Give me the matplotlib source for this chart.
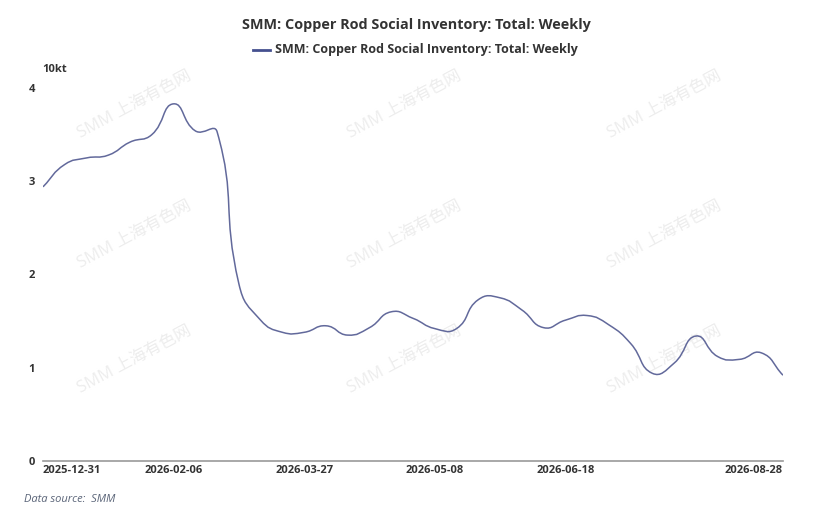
import numpy as np
import matplotlib
matplotlib.use("Agg")
import matplotlib.pyplot as plt
from matplotlib.path import Path
from matplotlib.patches import PathPatch
from matplotlib.lines import Line2D

plt.rcParams['font.family'] = ['Open Sans', 'Noto Sans CJK SC', 'DejaVu Sans']

title = "SMM: Copper Rod Social Inventory: Total: Weekly"
dates = ["2025-12-31", "2026-01-05", "2026-01-09", "2026-01-16", "2026-01-23",
         "2026-01-30", "2026-02-06", "2026-02-13", "2026-02-27", "2026-03-06",
         "2026-03-13", "2026-03-20", "2026-03-27", "2026-04-03", "2026-04-10",
         "2026-04-17", "2026-04-24", "2026-04-30", "2026-05-08", "2026-05-15",
         "2026-05-22", "2026-05-29", "2026-06-05", "2026-06-12", "2026-06-18",
         "2026-06-26", "2026-07-03", "2026-07-10", "2026-07-17", "2026-07-24",
         "2026-07-31", "2026-08-07", "2026-08-14", "2026-08-21", "2026-08-28"]
inventory = [2.94, 3.18, 3.25, 3.28, 3.42, 3.50, 3.83, 3.54, 3.53, 1.90,
             1.51, 1.38, 1.38, 1.45, 1.35, 1.43, 1.60, 1.53, 1.42, 1.42,
             1.73, 1.75, 1.62, 1.43, 1.51, 1.56, 1.46, 1.26, 0.94, 1.05,
             1.34, 1.12, 1.09, 1.16, 0.92]
shown_ticks = [0, 6, 12, 18, 24, 34]

W, H = 831, 522
fig = plt.figure(figsize=(W / 100, H / 100), dpi=100)
ax = fig.add_axes([43 / W, (H - 461) / H, (783 - 43) / W, (461 - 88) / H])

x = np.arange(len(inventory), dtype=float)
y = np.array(inventory)

# echarts-like smooth curve: bezier control points from neighbours
sx, sy = 21.76, 93.25   # px per unit, to weigh distances like on screen
smooth = 0.5
n = len(x)
cps = []
for i in range(n):
    prev_i = max(i - 1, 0)
    next_i = min(i + 1, n - 1)
    vx = x[next_i] - x[prev_i]
    vy = y[next_i] - y[prev_i]
    d0 = np.hypot((x[i] - x[prev_i]) * sx, (y[i] - y[prev_i]) * sy)
    d1 = np.hypot((x[next_i] - x[i]) * sx, (y[next_i] - y[i]) * sy)
    tot = d0 + d1 if d0 + d1 > 0 else 1
    d0, d1 = d0 / tot, d1 / tot
    cp0 = (x[i] - vx * smooth * d0, y[i] - vy * smooth * d0)
    cp1 = (x[i] + vx * smooth * d1, y[i] + vy * smooth * d1)
    cps.append((cp0, cp1))
verts = [(x[0], y[0])]
codes = [Path.MOVETO]
for i in range(1, n):
    verts += [cps[i - 1][1], cps[i][0], (x[i], y[i])]
    codes += [Path.CURVE4] * 3
ax.add_patch(PathPatch(Path(verts, codes), fill=False, edgecolor='#62699b',
                       lw=1.1, zorder=3))

ax.set_xlim(0, n - 1)
ax.set_ylim(0, 4)
for s in ['top', 'right', 'left']:
    ax.spines[s].set_visible(False)
ax.spines['bottom'].set_color('#9a9a9a')
ax.spines['bottom'].set_linewidth(1.2)
ax.set_yticks([0, 1, 2, 3, 4])
ax.set_yticklabels(['0', '1', '2', '3', '4'], fontsize=8, fontweight='bold',
                   color='#333333')
ax.tick_params(axis='y', length=0, pad=6)
ax.set_xticks(shown_ticks)
labels = ax.set_xticklabels([dates[i] for i in shown_ticks], fontsize=8,
                            fontweight='bold', color='#333333')
labels[0].set_ha('left')
labels[-1].set_ha('right')
ax.tick_params(axis='x', length=0, pad=3)

# watermark, behind the line
for wx in [135, 405, 665]:
    for wy in [105, 235, 360]:
        ax.text(wx / W, 1 - wy / H, "SMM 上海有色网", fontsize=12,
                color='#ededed', rotation=28, ha='center', va='center',
                family=['Open Sans', 'Noto Sans CJK SC'], zorder=1,
                transform=fig.transFigure, clip_on=False)

fig.text(416 / W, 1 - 25 / H, title, ha='center', va='center', fontsize=10.4,
         fontweight='bold', color='#333333')
fig.add_artist(Line2D([253 / W, 270 / W], [1 - 50 / H, 1 - 50 / H],
                      color='#45508f', lw=2))
fig.text(275 / W, 1 - 50 / H, title, ha='left', va='center', fontsize=9,
         fontweight='bold', color='#333333')
fig.text(42 / W, 1 - 70 / H, "10kt", ha='left', va='center', fontsize=8,
         fontweight='bold', color='#333333')
fig.text(24 / W, 1 - 499 / H, "Data source:  SMM", ha='left', va='center',
         fontsize=8, style='italic', color='#5a6478')

fig.savefig("out.png", dpi=100)
